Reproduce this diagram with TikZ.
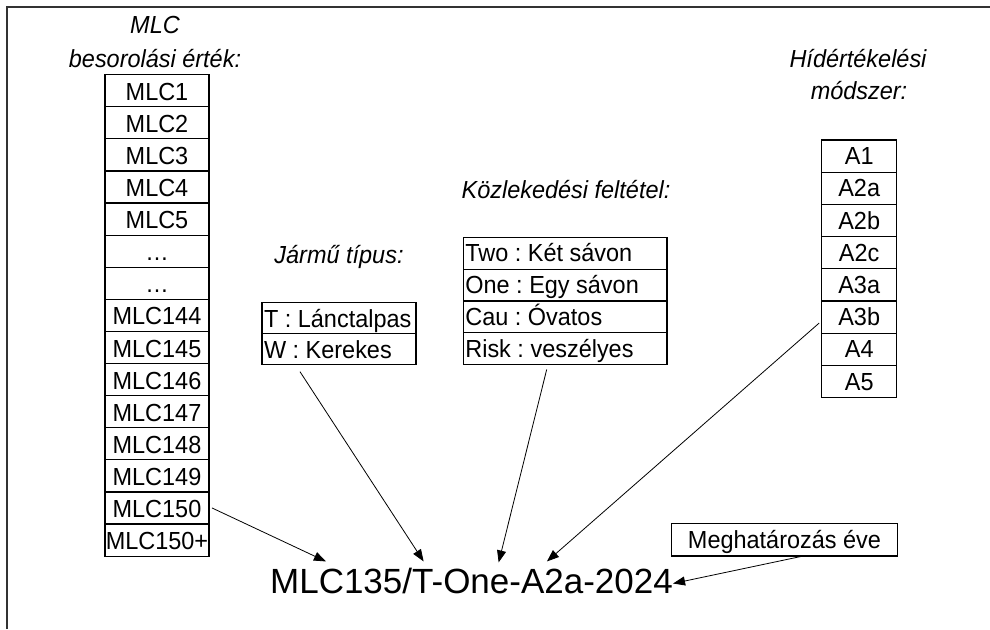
\documentclass[tikz,border=0pt]{standalone}
\usepackage{fontspec}
\setmainfont{Liberation Sans}
\newfontfamily\tallfont[FakeStretch=0.95]{Liberation Sans}
\usepackage{tikz}
\usetikzlibrary{arrows.meta,positioning,matrix}
\usepackage{xcolor}
\definecolor{ink}{RGB}{0,0,0}
\definecolor{framegray}{RGB}{50,50,50}
\newcommand{\cellfont}{\tallfont\fontsize{24.7}{28}\selectfont\frenchspacing}
\tikzset{
  cell/.style={draw=ink,line width=1.2pt,inner sep=0pt,outer sep=0pt,minimum height=32.1pt,text height=25.6pt,text depth=6.5pt,font=\cellfont,anchor=center},
  mlccell/.style={cell,minimum width=104pt},
  methcell/.style={cell,minimum width=75pt,minimum height=32.2pt,text height=24.7pt,text depth=7.5pt},
  textcell/.style={cell,inner xsep=2pt,align=flush left},
  title/.style={font=\tallfont\fontsize{24.7}{34}\selectfont\itshape,inner sep=0pt,align=center},
  pointer/.style={-{Triangle[length=12pt,width=9pt]},line width=0.8pt,draw=ink},
  frameline/.style={line width=2pt,draw=framegray}
}

\begin{document}
\begin{tikzpicture}[x=1pt,y=-1pt]
\useasboundingbox (0,0) rectangle (990,629);
\draw[frameline] (7,629) -- (7,7) -- (990,7);

% titles
\node[title,anchor=base] (mlctitle) at (155,33) {MLC};
\node[title,anchor=base] (mlctitle2) at (155,67) {besorolási érték:};
\node[title,anchor=base] (vehtitle) at (339,263) {Jármű típus:};
\node[title,anchor=base] (trtitle) at (566,198) {Közlekedési feltétel:};
\node[title,anchor=base] (methtitle) at (858,67) {Hídértékelési};
\node[title,anchor=base] (methtitle2) at (859,99.5) {módszer:};

% columns
\matrix[matrix of nodes,row sep=-1.2pt,inner sep=0pt,outer sep=0pt,nodes={mlccell},anchor=north,ampersand replacement=\&] (mlc) at (157,74) {
MLC1 \\ MLC2 \\ MLC3 \\ MLC4 \\ MLC5 \\ … \\ … \\ MLC144 \\ MLC145 \\ MLC146 \\ MLC147 \\ MLC148 \\ MLC149 \\ MLC150 \\ MLC150+ \\
};
\matrix[matrix of nodes,row sep=-1.2pt,inner sep=0pt,outer sep=0pt,nodes={textcell,minimum height=31.2pt,text height=24.7pt,text depth=6.5pt,text width=150pt},anchor=north,ampersand replacement=\&] (veh) at (339,301.7) {
T : Lánctalpas \\ W : Kerekes \\
};
\matrix[matrix of nodes,row sep=-1.2pt,inner sep=0pt,outer sep=0pt,nodes={textcell,minimum height=31.8pt,text height=24.5pt,text depth=7.3pt,text width=199.7pt},anchor=north,ampersand replacement=\&] (tr) at (565.2,236.7) {
Two : Két sávon \\ One : Egy sávon \\ Cau : Óvatos \\ Risk : veszélyes \\
};
\matrix[matrix of nodes,row sep=-1.2pt,inner sep=0pt,outer sep=0pt,nodes={methcell},anchor=north,ampersand replacement=\&] (meth) at (859.2,139.3) {
A1 \\ A2a \\ A2b \\ A2c \\ A3a \\ A3b \\ A4 \\ A5 \\
};

\node[cell,minimum width=225.6pt,minimum height=32.7pt,text height=25.7pt,text depth=7pt] (year) at (784.5,539.6) {Meghatározás éve};
\node[font=\fontsize{35}{40}\selectfont,inner sep=0pt,anchor=base] (code) at (471.5,593) {MLC135/T-One-A2a-2024};

% pointers
\draw[pointer] ([xshift=3pt]mlc-14-1.east) -- ([xshift=56pt,yshift=6pt]code.north west);
\draw[pointer] ([xshift=-39pt,yshift=-7pt]veh-2-1.south) -- ([xshift=153.7pt,yshift=6pt]code.north west);
\draw[pointer] ([xshift=-18.5pt,yshift=-5pt]tr-4-1.south) -- ([xshift=228.7pt,yshift=5pt]code.north west);
\draw[pointer] ([xshift=-2.5pt,yshift=-6pt]meth-6-1.west) -- ([xshift=277pt,yshift=6pt]code.north west);
\draw[pointer] ([xshift=19pt]year.south) -- ([yshift=-3pt]code.east);
\end{tikzpicture}
\end{document}
